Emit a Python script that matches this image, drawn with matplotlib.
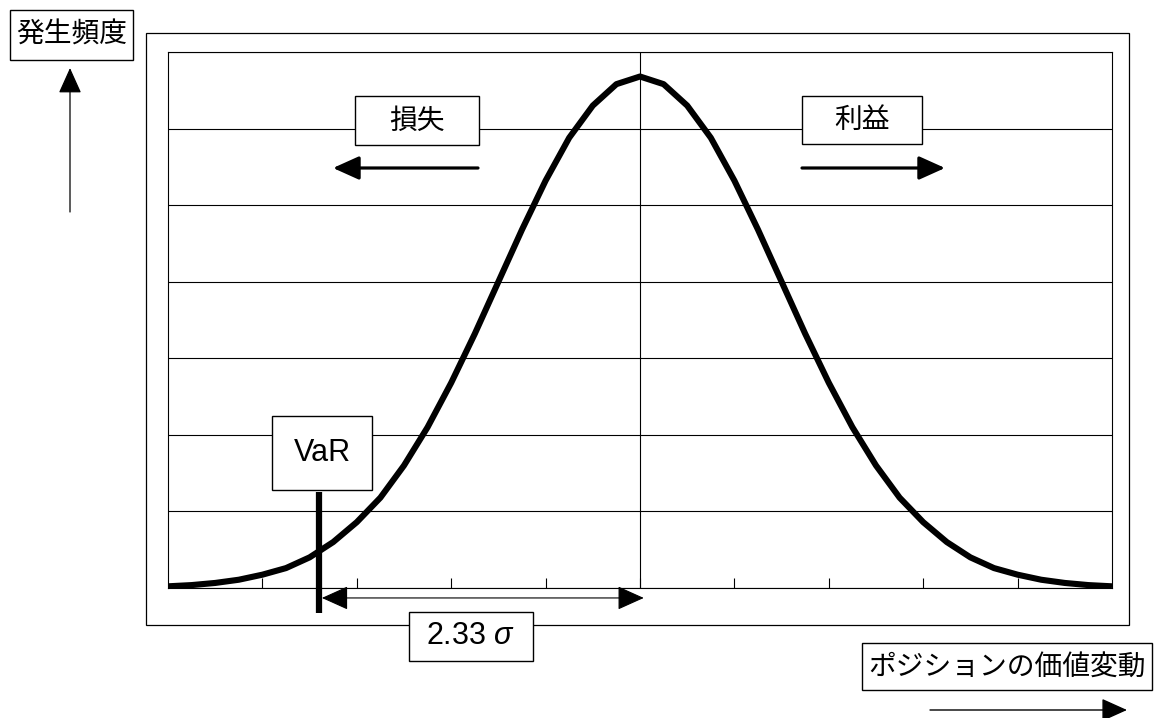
import numpy as np
import matplotlib
matplotlib.use("Agg")
import matplotlib.pyplot as plt
from matplotlib.patches import Rectangle

plt.rcParams["font.family"] = ["Noto Sans CJK JP", "DejaVu Sans"]
plt.rcParams["mathtext.fontset"] = "custom"
plt.rcParams["mathtext.rm"] = "Liberation Sans"
plt.rcParams["mathtext.it"] = "Liberation Sans:italic"

# position change (category axis) and frequency
change = np.arange(-5, 5.25, 0.25)
freq = [0.0011, 0.0019, 0.0033, 0.0054, 0.0087, 0.013, 0.020, 0.030, 0.043,
        0.059, 0.080, 0.105, 0.134, 0.166, 0.200, 0.234, 0.266, 0.294, 0.315,
        0.329, 0.334, 0.329, 0.315, 0.294, 0.266, 0.234, 0.200, 0.166, 0.134,
        0.105, 0.080, 0.059, 0.043, 0.030, 0.020, 0.013, 0.0087, 0.0054,
        0.0033, 0.0019, 0.0011]
var_x = -3.4
labels = {"y": "発生頻度", "x": "ポジションの価値変動", "loss": "損失",
          "gain": "利益", "var": "VaR", "dist": r"2.33 $\sigma$"}

W, H = 1156, 718
fig = plt.figure(figsize=(W / 100, H / 100), dpi=100)
ax = fig.add_axes([168 / W, 1 - 588 / H, (1112 - 168) / W, (588 - 52) / H])

ax.plot(change, freq, color="k", lw=4.4, solid_joinstyle="round",
        solid_capstyle="butt", zorder=3)
ax.set_xlim(-5, 5)
ax.set_ylim(0, 0.35)
ax.set_yticks(np.arange(0, 0.351, 0.05))
ax.yaxis.grid(True, color="k", lw=0.8)
ax.axvline(0, color="k", lw=0.8)
ax.set_xticks(np.arange(-4, 5, 1))
ax.tick_params(axis="x", direction="in", length=7, width=0.8, labelbottom=False)
ax.tick_params(axis="y", left=False, labelleft=False)
for s in ax.spines.values():
    s.set_linewidth(0.8)

# VaR marker and 2.33 sigma distance
ax.plot([var_x, var_x], [0.0627, -0.0163], color="k", lw=4.5,
        solid_capstyle="butt", clip_on=False, zorder=4)
ax.annotate("", xy=(var_x + 0.03, -0.0065), xytext=(0.04, -0.0065),
            arrowprops=dict(arrowstyle="<|-|>,head_length=0.4,head_width=0.18",
                            mutation_scale=42, color="k", lw=0.8,
                            shrinkA=0, shrinkB=0),
            annotation_clip=False)


def fp(x, y):
    return (x, H - y)


def arrow(x0, y0, x1, y1, lw):
    ax.annotate("", xy=fp(x1, y1), xytext=fp(x0, y0),
                xycoords="figure pixels", textcoords="figure pixels",
                arrowprops=dict(arrowstyle="-|>,head_length=0.4,head_width=0.18",
                                mutation_scale=40, color="k", lw=lw,
                                shrinkA=0, shrinkB=0),
                annotation_clip=False)


def boxed(x0, y0, x1, y1, text, family=None, size=20):
    fig.add_artist(Rectangle(((x0) / W, 1 - y1 / H), (x1 - x0) / W,
                             (y1 - y0) / H, transform=fig.transFigure,
                             facecolor="white", edgecolor="k", lw=1,
                             zorder=5))
    kw = {"family": family} if family else {}
    fig.text((x0 + x1) / 2 / W, 1 - (y0 + y1) / 2 / H, text, fontsize=size,
             ha="center", va="center", zorder=6, **kw)


# outer frame
fig.add_artist(Rectangle((146 / W, 1 - 625 / H), (1129 - 146) / W,
                         (625 - 33) / H, transform=fig.transFigure,
                         fill=False, edgecolor="k", lw=0.9, zorder=1))

arrow(478, 168, 333, 168, 2.3)
arrow(802, 168, 945, 168, 2.3)
arrow(70, 212, 70, 68, 0.9)
arrow(930, 710, 1127, 710, 1.0)

boxed(10, 10, 133, 60, labels["y"])
boxed(862, 643, 1152, 690, labels["x"])
boxed(355, 96, 479, 145, labels["loss"])
boxed(802, 96, 922, 144, labels["gain"])
boxed(272, 416, 372, 490, labels["var"], family="Liberation Sans", size=22)
boxed(409, 612, 533, 661, labels["dist"], family="Liberation Sans", size=22)

fig.savefig("out.png", dpi=100)
